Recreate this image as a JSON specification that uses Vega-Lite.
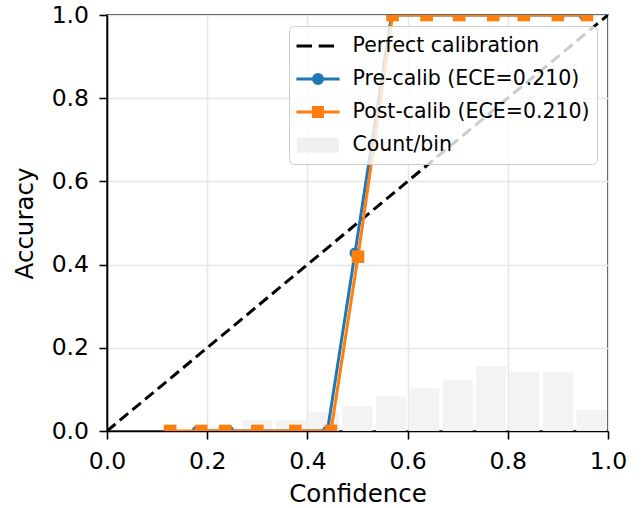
{
  "$schema": "https://vega.github.io/schema/vega-lite/v6.json",
  "autosize": "none",
  "width": 501,
  "height": 416,
  "padding": {"left": 107, "top": 15, "right": 36, "bottom": 77},
  "datasets": {
    "bins": [
      {"lo": 0.203, "hi": 0.263, "frac": 0.01},
      {"lo": 0.270, "hi": 0.330, "frac": 0.026},
      {"lo": 0.337, "hi": 0.397, "frac": 0.026},
      {"lo": 0.403, "hi": 0.463, "frac": 0.046},
      {"lo": 0.470, "hi": 0.530, "frac": 0.059},
      {"lo": 0.537, "hi": 0.597, "frac": 0.083},
      {"lo": 0.603, "hi": 0.663, "frac": 0.102},
      {"lo": 0.670, "hi": 0.730, "frac": 0.123},
      {"lo": 0.737, "hi": 0.797, "frac": 0.156},
      {"lo": 0.803, "hi": 0.863, "frac": 0.141},
      {"lo": 0.870, "hi": 0.930, "frac": 0.141},
      {"lo": 0.937, "hi": 0.997, "frac": 0.051}
    ],
    "diag": [{"conf": 0, "acc": 0}, {"conf": 1, "acc": 1}],
    "pts": [
      {"series": "Pre-calib (ECE=0.210)", "conf": 0.180, "acc": 0},
      {"series": "Pre-calib (ECE=0.210)", "conf": 0.243, "acc": 0},
      {"series": "Pre-calib (ECE=0.210)", "conf": 0.440, "acc": 0},
      {"series": "Pre-calib (ECE=0.210)", "conf": 0.495, "acc": 0.428},
      {"series": "Pre-calib (ECE=0.210)", "conf": 0.568, "acc": 1},
      {"series": "Pre-calib (ECE=0.210)", "conf": 0.636, "acc": 1},
      {"series": "Pre-calib (ECE=0.210)", "conf": 0.700, "acc": 1},
      {"series": "Pre-calib (ECE=0.210)", "conf": 0.770, "acc": 1},
      {"series": "Pre-calib (ECE=0.210)", "conf": 0.832, "acc": 1},
      {"series": "Pre-calib (ECE=0.210)", "conf": 0.900, "acc": 1},
      {"series": "Pre-calib (ECE=0.210)", "conf": 0.952, "acc": 1},
      {"series": "Post-calib (ECE=0.210)", "conf": 0.126, "acc": 0},
      {"series": "Post-calib (ECE=0.210)", "conf": 0.188, "acc": 0},
      {"series": "Post-calib (ECE=0.210)", "conf": 0.236, "acc": 0},
      {"series": "Post-calib (ECE=0.210)", "conf": 0.300, "acc": 0},
      {"series": "Post-calib (ECE=0.210)", "conf": 0.376, "acc": 0},
      {"series": "Post-calib (ECE=0.210)", "conf": 0.447, "acc": 0},
      {"series": "Post-calib (ECE=0.210)", "conf": 0.501, "acc": 0.419},
      {"series": "Post-calib (ECE=0.210)", "conf": 0.570, "acc": 1},
      {"series": "Post-calib (ECE=0.210)", "conf": 0.638, "acc": 1},
      {"series": "Post-calib (ECE=0.210)", "conf": 0.703, "acc": 1},
      {"series": "Post-calib (ECE=0.210)", "conf": 0.771, "acc": 1},
      {"series": "Post-calib (ECE=0.210)", "conf": 0.832, "acc": 1},
      {"series": "Post-calib (ECE=0.210)", "conf": 0.900, "acc": 1},
      {"series": "Post-calib (ECE=0.210)", "conf": 0.958, "acc": 1}
    ]
  },
  "encoding": {
    "x": {"field": "conf", "type": "quantitative",
      "scale": {"domain": [0, 1], "nice": false, "zero": false},
      "axis": {"title": "Confidence", "values": [0, 0.2, 0.4, 0.6, 0.8, 1.0], "format": ".1f", "labelFlush": false, "titlePadding": 9}},
    "y": {"field": "acc", "type": "quantitative",
      "scale": {"domain": [0, 1], "nice": false, "zero": false},
      "axis": {"title": "Accuracy", "values": [0, 0.2, 0.4, 0.6, 0.8, 1.0], "format": ".1f", "labelFlush": false, "titlePadding": 14}}
  },
  "layer": [
    {
      "data": {"name": "bins"},
      "mark": {"type": "rect", "color": "#f3f3f3"},
      "encoding": {
        "x": {"field": "lo", "type": "quantitative"},
        "x2": {"field": "hi"},
        "y": {"field": "frac", "type": "quantitative"},
        "y2": {"datum": 0}
      }
    },
    {
      "data": {"name": "diag"},
      "mark": {"type": "line", "color": "black", "strokeWidth": 3, "strokeDash": [11, 5.5], "clip": true},
      "encoding": {}
    },
    {
      "data": {"name": "pts"},
      "transform": [{"filter": "datum.series == 'Pre-calib (ECE=0.210)'"}],
      "mark": {"type": "line", "color": "#1f77b4", "strokeWidth": 3, "clip": true},
      "encoding": {}
    },
    {
      "data": {"name": "pts"},
      "transform": [{"filter": "datum.series == 'Pre-calib (ECE=0.210)'"}],
      "mark": {"type": "point", "shape": "circle", "filled": true, "color": "#1f77b4", "opacity": 1, "size": 120, "clip": true},
      "encoding": {}
    },
    {
      "data": {"name": "pts"},
      "transform": [{"filter": "datum.series == 'Post-calib (ECE=0.210)'"}],
      "mark": {"type": "line", "color": "#ff7f0e", "strokeWidth": 3, "clip": true},
      "encoding": {}
    },
    {
      "data": {"name": "pts"},
      "transform": [{"filter": "datum.series == 'Post-calib (ECE=0.210)'"}],
      "mark": {"type": "point", "shape": "square", "filled": true, "color": "#ff7f0e", "opacity": 1, "size": 160, "clip": true},
      "encoding": {}
    },
    {
      "data": {"name": "pts"},
      "transform": [{"filter": "datum.acc > 2"}],
      "mark": {"type": "point", "filled": true, "opacity": 1, "size": 576, "strokeWidth": 3},
      "encoding": {
        "fill": {"field": "series", "type": "nominal", "title": null,
          "scale": {"domain": ["Perfect calibration", "Pre-calib (ECE=0.210)", "Post-calib (ECE=0.210)", "Count/bin"],
                    "range": ["black", "#1f77b4", "#ff7f0e", "#f0f0f0"]}},
        "stroke": {"field": "series", "type": "nominal", "title": null,
          "scale": {"domain": ["Perfect calibration", "Pre-calib (ECE=0.210)", "Post-calib (ECE=0.210)", "Count/bin"],
                    "range": ["black", "#1f77b4", "#ff7f0e", "#f0f0f0"]}},
        "shape": {"field": "series", "type": "nominal", "title": null,
          "scale": {"domain": ["Perfect calibration", "Pre-calib (ECE=0.210)", "Post-calib (ECE=0.210)", "Count/bin"],
                    "range": [
                      "M-1.79,0H-0.5M0.06,0H1.34",
                      "M-1.8,0H1.8M-0.375,0A0.375,0.375 0 1,1 0.375,0A0.375,0.375 0 1,1 -0.375,0Z",
                      "M-1.8,0H1.8M-0.375,-0.375H0.375V0.375H-0.375Z",
                      "M-1.63,-0.49H1.63V0.49H-1.63Z"
                    ]}}
      }
    }
  ],
  "config": {
    "view": {"stroke": "black", "strokeWidth": 1.6},
    "axis": {
      "domainColor": "black", "domainWidth": 1.6,
      "tickColor": "black", "tickWidth": 1.6, "tickSize": 8,
      "labelFont": "DejaVu Sans", "labelFontSize": 23.5, "labelColor": "black", "labelPadding": 10.5,
      "titleFont": "DejaVu Sans", "titleFontSize": 24.5, "titleFontWeight": "normal", "titleColor": "black",
      "gridColor": "#e6e6e6", "gridWidth": 1.6
    },
    "legend": {
      "orient": "top-right", "offset": 11, "padding": 6.5,
      "fillColor": "rgba(255,255,255,0.8)", "strokeColor": "#cccccc", "cornerRadius": 5,
      "labelFont": "DejaVu Sans", "labelFontSize": 20.5, "labelColor": "black", "labelLimit": 0,
      "symbolSize": 576, "symbolStrokeWidth": 3, "symbolOffset": 9, "labelOffset": 21, "rowPadding": 9
    }
  }
}
